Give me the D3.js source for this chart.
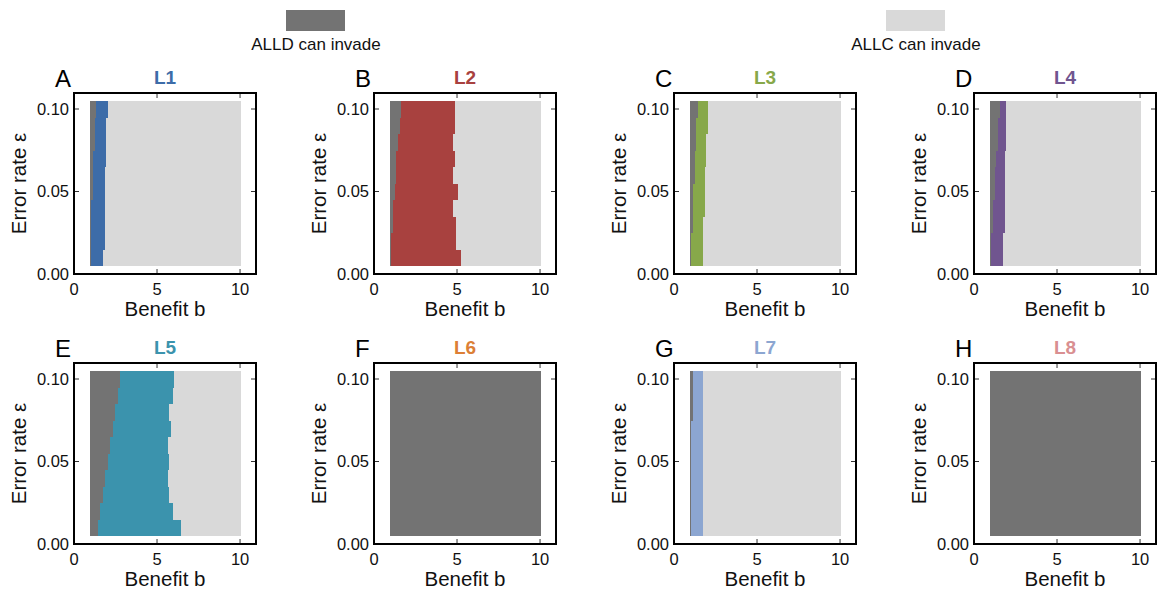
<!DOCTYPE html>
<html>
<head>
<meta charset="utf-8">
<script src="https://cdn.jsdelivr.net/npm/d3@7"></script>
<style>
  body { margin:0; background:#fff; }
  text { font-family: "Liberation Sans", Arial, Helvetica, sans-serif; }
</style>
</head>
<body>
<svg id="chart" width="1160" height="594"></svg>
<script>
// error rates (rows), each row is a band of width 0.01 centred on the value
const epsilons = [0.01,0.02,0.03,0.04,0.05,0.06,0.07,0.08,0.09,0.10];
const bMin = 0.95, bMax = 10.05; // b grid 1..10 step 0.1, cell edges

const letters = ['A','B','C','D','E','F','G','H'];
const names = ['L1','L2','L3','L4','L5','L6','L7','L8'];
const colors = ['#3d6ca8','#a8413f','#87a84a','#70558f','#3b93ad','#dc7f36','#8ca6d1','#d98f91'];

// b where the norm stops being invadable by ALLD (per eps row)
const alldEdge = [
  [1.05,1.05,1.05,1.05,1.15,1.15,1.15,1.25,1.25,1.35],  // L1
  [1.05,1.05,1.15,1.15,1.25,1.35,1.35,1.45,1.55,1.65],  // L2
  [1.05,1.05,1.15,1.15,1.15,1.25,1.25,1.35,1.35,1.45],  // L3
  [1.05,1.05,1.15,1.15,1.25,1.25,1.35,1.45,1.45,1.55],  // L4
  [1.45,1.55,1.75,1.85,2.05,2.15,2.35,2.45,2.65,2.75],  // L5
  [10.05,10.05,10.05,10.05,10.05,10.05,10.05,10.05,10.05,10.05], // L6
  [1.05,1.05,1.05,1.05,1.05,1.05,1.05,1.15,1.15,1.15],  // L7
  [10.05,10.05,10.05,10.05,10.05,10.05,10.05,10.05,10.05,10.05]  // L8
];
// b where ALLC starts to invade (per eps row)
const allcEdge = [
  [1.75,1.85,1.85,1.85,1.85,1.85,1.95,1.95,1.95,2.05],
  [5.25,4.95,4.95,4.75,5.05,4.75,4.85,4.75,4.85,4.85],
  [1.75,1.75,1.75,1.85,1.85,1.85,1.95,1.95,2.05,2.05],
  [1.75,1.75,1.85,1.85,1.85,1.85,1.85,1.95,1.95,1.95],
  [6.45,5.95,5.75,5.65,5.75,5.65,5.85,5.75,5.95,6.05],
  [10.05,10.05,10.05,10.05,10.05,10.05,10.05,10.05,10.05,10.05],
  [1.75,1.75,1.75,1.75,1.75,1.75,1.75,1.75,1.75,1.75],
  [10.05,10.05,10.05,10.05,10.05,10.05,10.05,10.05,10.05,10.05]
];

const xTicks = [0,5,10];
const yTicks = [0,0.05,0.10];
const legendItems = [
  {label:'ALLD can invade', color:'#737373', cx:316},
  {label:'ALLC can invade', color:'#d9d9d9', cx:916}
];

const DARK = '#737373', LIGHT = '#d9d9d9';
const svg = d3.select('#chart');
const W = 182, H = 181;

// legend
legendItems.forEach(d=>{
  svg.append('rect').attr('x',d.cx-30).attr('y',10).attr('width',59).attr('height',21).attr('fill',d.color);
  svg.append('text').attr('x',d.cx).attr('y',50).attr('text-anchor','middle')
    .attr('font-size',17).attr('fill','#111').text(d.label);
});

names.forEach((name,i)=>{
  const col = i%4, row = Math.floor(i/4);
  const left = 74 + col*300, top = 93 + row*270;
  const g = svg.append('g').attr('transform',`translate(${left},${top})`);
  const x = d3.scaleLinear().domain([0,10.96]).range([0,W]);
  const y = d3.scaleLinear().domain([0,0.1097]).range([H,0]);

  epsilons.forEach((e,k)=>{
    const y0 = y(e+0.005), y1 = y(e-0.005);
    const a = alldEdge[i][k], c = allcEdge[i][k];
    const segs = [[bMin,a,DARK],[a,c,colors[i]],[c,bMax,LIGHT]];
    segs.forEach(([s0,s1,fill])=>{
      if (s1<=s0) return;
      g.append('rect').attr('x',x(s0)).attr('y',y0)
        .attr('width',x(s1)-x(s0)+0.4).attr('height',y1-y0+0.4)
        .attr('fill',fill).attr('shape-rendering','crispEdges');
    });
  });

  // ticks on all four sides, pointing inward
  const tl = 5;
  xTicks.forEach(t=>{
    g.append('line').attr('x1',x(t)).attr('x2',x(t)).attr('y1',H).attr('y2',H-tl).attr('stroke','#333').attr('stroke-width',1);
    g.append('line').attr('x1',x(t)).attr('x2',x(t)).attr('y1',0).attr('y2',tl).attr('stroke','#333').attr('stroke-width',1);
    g.append('text').attr('x',x(t)).attr('y',H+21).attr('text-anchor','middle').attr('font-size',16.5).attr('fill','#111').text(t);
  });
  yTicks.forEach(t=>{
    g.append('line').attr('x1',0).attr('x2',tl).attr('y1',y(t)).attr('y2',y(t)).attr('stroke','#333').attr('stroke-width',1);
    g.append('line').attr('x1',W).attr('x2',W-tl).attr('y1',y(t)).attr('y2',y(t)).attr('stroke','#333').attr('stroke-width',1);
    g.append('text').attr('x',-5).attr('y',y(t)).attr('dy','0.36em').attr('text-anchor','end').attr('font-size',16.5).attr('fill','#111').text(d3.format('.2f')(t));
  });

  g.append('rect').attr('x',0).attr('y',0).attr('width',W).attr('height',H)
    .attr('fill','none').attr('stroke','#000').attr('stroke-width',2);

  g.append('text').attr('x',W/2).attr('y',-9).attr('text-anchor','middle')
    .attr('font-size',19).attr('font-weight','bold').attr('fill',colors[i]).text(name);
  g.append('text').attr('x',-19).attr('y',-6).attr('font-size',24).attr('fill','#000').text(letters[i]);
  g.append('text').attr('x',W/2).attr('y',H+42).attr('text-anchor','middle').attr('font-size',20.5).attr('fill','#111').text('Benefit b');
  g.append('text').attr('transform',`translate(-48,${H/2}) rotate(-90)`).attr('text-anchor','middle')
    .attr('font-size',20.5).attr('fill','#111').text('Error rate ε');
});
</script>
</body>
</html>
